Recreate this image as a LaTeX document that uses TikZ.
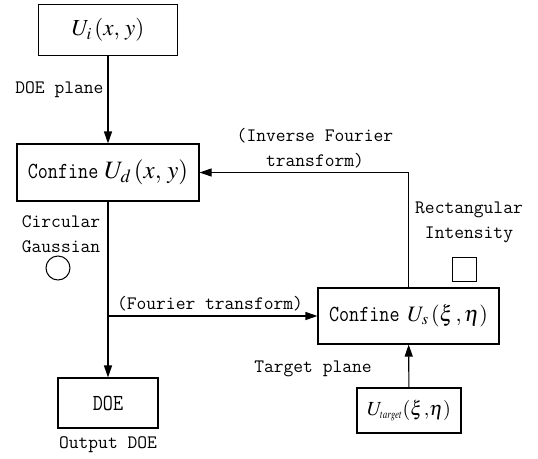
\documentclass[tikz,border=0pt]{standalone}
\usepackage{mathptmx}
\usepackage{graphicx}
\usepackage{fontspec}
\usetikzlibrary{arrows.meta}

\newcommand{\fsz}[1]{\fontsize{#1}{#1}\selectfont}
\newcommand{\tallword}[2]{\scalebox{0.85}[1]{\fsz{#1}#2}}

\tikzset{
  box/.style={draw, line width=1.1pt, inner sep=0pt, font=\ttfamily},
  lbl/.style={font=\ttfamily\fontsize{19}{25}\selectfont, align=center},
  flow/.style={line width=1.1pt, -{Triangle[length=12pt, width=8pt]}}
}

\begin{document}
\begin{tikzpicture}[x=1pt, y=-1pt]
  \useasboundingbox (0, 0) rectangle (538, 458);

  % boxes
  \node[box, minimum width=139pt, minimum height=51pt] (ui) at (108, 30)
       {\fsz{23}$U_{i}\,(x,\,y)$};
  \node[box, minimum width=182pt, minimum height=57pt] (ud) at (108, 172.5)
       {\tallword{23}{Confine}\hspace{6pt}\fsz{25}$U_{d}\,(x,\,y)$\hspace{2pt}};
  \node[box, minimum width=181pt, minimum height=56pt] (us) at (408.5, 316)
       {\tallword{23}{Confine}\hspace{8pt}\fsz{22}$U_{s}\,(\xi\mkern2mu,\eta)$};
  \node[box, minimum width=104pt, minimum height=45pt] (ut) at (409, 410.5)
       {\fsz{20}$U_{\scalebox{0.75}[1]{$\scriptscriptstyle target$}}(\xi\mkern1mu{,}\eta)$};
  \node[box, minimum width=100pt, minimum height=50pt] (doe) at (108, 403)
       {\tallword{23}{DOE}};

  % labels
  \node[lbl, anchor=east] (doeplane) at (107, 90) {DOE plane};
  \node[lbl] (ift) at (315, 148) {(Inverse Fourier\\transform)};
  \node[lbl] (rect) at (469, 222) {Rectangular\\Intensity};
  \node[lbl] (circ) at (61, 234) {Circular\\Gaussian};
  \node[lbl] (ft) at (210, 304) {(Fourier transform)};
  \node[lbl] (tgt) at (313, 369) {Target plane};
  \node[lbl] (out) at (108, 445) {Output DOE};

  % intensity symbols
  \draw[line width=1pt] (452, 257) rectangle (476, 281);
  \draw[line width=1pt] (58, 268) circle (12);

  % connectors
  \coordinate (fork) at (ud.south |- us.west);
  \draw[flow] (ui) -- (ud);
  \draw[flow] (us.north) |- (ud.east);
  \draw[flow] (ut) -- (us);
  \draw[flow] (ud) -- (doe);
  \draw[flow] (fork) -- (us.west);
\end{tikzpicture}
\end{document}
